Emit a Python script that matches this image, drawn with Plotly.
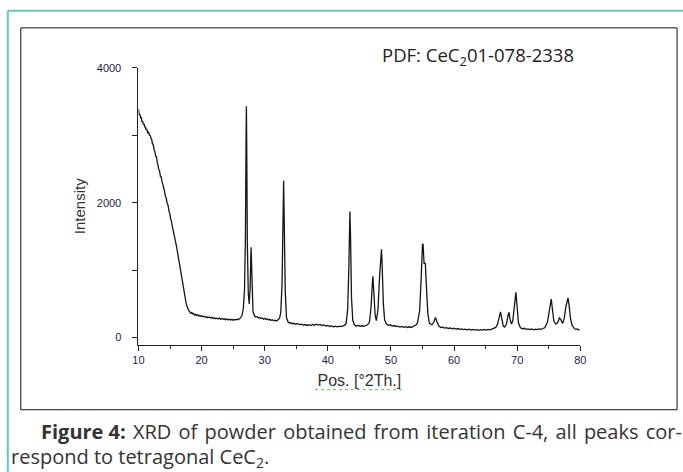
import plotly.graph_objects as go

two_theta = [
    10.0, 10.05, 10.1, 10.15, 10.25, 10.35, 10.45, 10.55, 10.65, 10.8,
    10.9, 11.0, 11.1, 11.2, 11.3, 11.45, 11.6, 11.75, 11.9, 12.0,
    12.1, 12.2, 12.35, 12.5, 12.6, 12.75, 12.85, 13.0, 13.1, 13.2,
    13.35, 13.5, 13.6, 13.75, 13.85, 14.0, 14.1, 14.25, 14.4, 14.55,
    14.7, 14.85, 14.95, 15.1, 15.2, 15.35, 15.5, 15.6, 15.75, 15.9,
    16.05, 16.2, 16.35, 16.5, 16.65, 16.8, 16.95, 17.1, 17.25, 17.4,
    17.55, 17.7, 17.85, 18.0, 18.15, 18.3, 18.45, 18.6, 18.75, 18.9,
    19.05, 19.2, 19.35, 19.5, 19.65, 19.8, 20.0, 20.2, 20.4, 20.6,
    20.8, 21.0, 21.2, 21.4, 21.6, 21.8, 22.0, 22.2, 22.4, 22.6,
    22.8, 23.0, 23.2, 23.4, 23.6, 23.8, 24.0, 24.2, 24.4, 24.6,
    24.8, 25.0, 25.2, 25.4, 25.6, 25.8, 26.0, 26.2, 26.4, 26.6,
    26.8, 26.95, 27.05, 27.1, 27.15, 27.25, 27.4, 27.55, 27.7, 27.8,
    27.85, 27.9, 28.0, 28.15, 28.4, 28.6, 28.8, 29.0, 29.2, 29.4,
    29.6, 29.8, 30.0, 30.2, 30.4, 30.6, 30.8, 31.0, 31.2, 31.4,
    31.6, 31.8, 32.0, 32.2, 32.4, 32.55, 32.75, 32.9, 33.0, 33.1,
    33.25, 33.45, 33.7, 33.9, 34.1, 34.3, 34.6, 34.9, 35.2, 35.5,
    35.8, 36.1, 36.4, 36.7, 37.0, 37.3, 37.6, 37.9, 38.2, 38.5,
    38.8, 39.1, 39.4, 39.7, 40.0, 40.3, 40.6, 40.9, 41.2, 41.5,
    41.8, 42.1, 42.4, 42.7, 42.9, 43.15, 43.35, 43.5, 43.6, 43.75,
    43.95, 44.2, 44.5, 44.8, 45.1, 45.4, 45.7, 46.0, 46.3, 46.6,
    46.85, 47.05, 47.15, 47.3, 47.5, 47.7, 47.95, 48.2, 48.4, 48.5,
    48.6, 48.8, 49.0, 49.3, 49.6, 49.9, 50.2, 50.5, 50.8, 51.1,
    51.4, 51.7, 52.0, 52.3, 52.6, 52.9, 53.2, 53.5, 53.8, 54.0,
    54.2, 54.55, 54.8, 55.0, 55.1, 55.25, 55.45, 55.6, 55.85, 56.1,
    56.5, 56.8, 57.05, 57.3, 57.6, 57.9, 58.2, 58.5, 58.8, 59.1,
    59.4, 59.7, 60.0, 60.3, 60.6, 60.9, 61.2, 61.5, 61.8, 62.1,
    62.4, 62.7, 63.0, 63.3, 63.6, 63.9, 64.2, 64.5, 64.8, 65.1,
    65.4, 65.7, 66.0, 66.3, 66.6, 66.9, 67.15, 67.35, 67.55, 67.8,
    68.0, 68.3, 68.55, 68.7, 68.85, 69.1, 69.3, 69.5, 69.7, 69.8,
    69.95, 70.2, 70.5, 70.8, 71.1, 71.4, 71.7, 72.0, 72.3, 72.6,
    72.9, 73.2, 73.5, 73.8, 74.1, 74.4, 74.8, 75.05, 75.25, 75.4,
    75.55, 75.8, 76.1, 76.4, 76.7, 76.9, 77.2, 77.45, 77.7, 77.9,
    78.05, 78.2, 78.45, 78.7, 78.9, 79.1, 79.3, 79.5, 79.7, 79.9,
]
intensity = [
    3390, 3340, 3360, 3300, 3310, 3250, 3270, 3200, 3210, 3160,
    3175, 3120, 3130, 3080, 3095, 3040, 3050, 3000, 2990, 2950,
    2940, 2880, 2860, 2780, 2760, 2680, 2690, 2580, 2560, 2500,
    2470, 2380, 2390, 2300, 2280, 2210, 2190, 2100, 2070, 1990,
    1960, 1870, 1850, 1760, 1740, 1660, 1600, 1560, 1480, 1420,
    1340, 1260, 1170, 1080, 980, 890, 800, 720, 640, 570,
    510, 460, 420, 395, 380, 360, 370, 350, 355, 335,
    345, 330, 338, 322, 330, 315, 325, 310, 318, 300,
    308, 295, 305, 290, 300, 285, 295, 280, 288, 276,
    290, 272, 282, 270, 278, 266, 276, 262, 272, 260,
    270, 258, 268, 262, 272, 265, 280, 295, 330, 420,
    700, 1500, 3000, 3430, 2900, 1400, 650, 500, 750, 1200,
    1340, 1150, 650, 380, 320, 305, 310, 290, 298, 282,
    290, 272, 285, 268, 278, 262, 272, 255, 265, 250,
    258, 245, 255, 270, 300, 380, 800, 1800, 2330, 1700,
    700, 300, 230, 215, 222, 205, 212, 198, 206, 192,
    200, 185, 193, 180, 190, 178, 195, 183, 198, 186,
    196, 180, 188, 172, 180, 165, 172, 160, 168, 158,
    170, 162, 175, 185, 210, 420, 1100, 1870, 1500, 600,
    260, 190, 172, 180, 166, 175, 168, 180, 190, 230,
    450, 800, 910, 650, 330, 250, 420, 900, 1250, 1310,
    1100, 500, 260, 200, 182, 190, 170, 178, 162, 170,
    156, 166, 152, 162, 150, 160, 150, 162, 172, 190,
    215, 400, 900, 1390, 1380, 1100, 1100, 800, 350, 210,
    190, 230, 300, 230, 170, 150, 156, 140, 148, 135,
    142, 130, 138, 126, 134, 122, 130, 118, 126, 115,
    124, 112, 120, 110, 118, 108, 117, 110, 120, 112,
    122, 115, 125, 130, 150, 200, 320, 380, 290, 170,
    155, 200, 330, 375, 280, 200, 250, 450, 650, 670,
    500, 220, 150, 130, 138, 122, 130, 118, 127, 116,
    126, 118, 128, 122, 135, 150, 230, 350, 500, 570,
    450, 250, 200, 220, 290, 270, 210, 280, 450, 560,
    590, 500, 280, 180, 145, 130, 122, 128, 115, 118,
]

x_ticks = [10, 20, 30, 40, 50, 60, 70, 80]
y_ticks = [0, 2000, 4000]

W, H = 683, 472
TEAL = "#5ccdb7"
TICK_COLOR = "#23224a"

# layout helpers: page pixel position -> paper fraction (small correction for capture scaling)
SC, OFF = 0.985, 4.2


def fx(px):
    return (px - OFF) / SC / W


def fy(py):
    return 1 - (py - OFF) / SC / H


fig = go.Figure()
fig.add_trace(go.Scatter(
    x=two_theta, y=intensity, mode="lines",
    line=dict(color="#151515", width=1.3),
    showlegend=False, hoverinfo="skip",
))

fig.update_layout(
    width=W, height=H,
    margin=dict(l=0, r=0, t=0, b=0),
    paper_bgcolor="white", plot_bgcolor="white",
    showlegend=False,
    xaxis=dict(
        domain=[fx(137), fx(580)], range=[10, 80],
        tickvals=x_ticks, ticktext=[str(v) for v in x_ticks],
        ticks="outside", ticklen=5, tickcolor="#222", tickwidth=1,
        minor=dict(ticks="outside", dtick=5, tick0=10, ticklen=3, tickcolor="#222"),
        showline=True, linecolor="#222", linewidth=1, mirror=False,
        showgrid=False, zeroline=False,
        tickfont=dict(family="Liberation Sans, Arial", size=11, color=TICK_COLOR),
        title=dict(text="Pos. [°2Th.]", standoff=10,
                   font=dict(family="Liberation Sans, Arial", size=16, color="#333")),
    ),
    yaxis=dict(
        domain=[fy(342), fy(66)], range=[-104, 4000],
        tickvals=y_ticks, ticktext=[str(v) for v in y_ticks],
        ticks="outside", ticklen=5, tickcolor="#222", tickwidth=1,
        minor=dict(ticks="outside", dtick=1000, tick0=0, ticklen=5, tickcolor="#222"),
        showline=True, linecolor="#222", linewidth=1,
        showgrid=False, zeroline=False,
        ticklabelstandoff=9,
        tickfont=dict(family="Liberation Sans, Arial", size=11, color=TICK_COLOR),
        title=dict(text="Intensity", standoff=7,
                   font=dict(family="Liberation Sans, Arial", size=15, color="#333")),
    ),
)

# page decoration: teal frame and black box around the figure
fig.add_shape(type="line", xref="paper", yref="paper", x0=fx(6), x1=1.02, y0=fy(9), y1=fy(9),
              line=dict(color=TEAL, width=2))
fig.add_shape(type="line", xref="paper", yref="paper", x0=fx(6), x1=fx(6), y0=-0.02, y1=fy(9),
              line=dict(color=TEAL, width=2))
fig.add_shape(type="rect", xref="paper", yref="paper", x0=fx(19), x1=fx(677),
              y0=fy(407), y1=fy(26), line=dict(color="#111", width=1))
# spell-check squiggle under the axis title, as on the source page
fig.add_shape(type="line", xref="paper", yref="paper", x0=fx(314), x1=fx(402),
              y0=fy(387), y1=fy(387), line=dict(color="#5fbf4a", width=1, dash="dot"))

fig.add_annotation(text="PDF: CeC<sub>2</sub>01-078-2338", xref="paper", yref="paper",
                   x=fx(379), y=fy(54), xanchor="left", yanchor="middle", showarrow=False,
                   font=dict(family="Open Sans", size=18.5, color="#222"))

# justified first caption line: a hair space after each word gap widens it like the page text
HS = "\u200a"
line1 = ("<b>Figure 4:</b> " + HS + ("XRD of powder obtained from iteration C-4, all peaks cor-")
         .replace(" ", " " + HS))
fig.add_annotation(text=line1,
                   xref="paper", yref="paper", x=fx(37), y=fy(429),
                   xanchor="left", yanchor="middle", showarrow=False,
                   font=dict(family="Open Sans", size=20, color="#333"))
fig.add_annotation(text="respond to tetragonal CeC<sub>2</sub>.",
                   xref="paper", yref="paper", x=fx(7), y=fy(455),
                   xanchor="left", yanchor="middle", showarrow=False,
                   font=dict(family="Open Sans", size=20, color="#333"))

fig.write_html(
    "out.html",
    config={"displayModeBar": False},
    post_script=(
        "document.documentElement.style.margin='0';document.documentElement.style.padding='0';"
        "document.documentElement.style.overflow='hidden';"
        "document.body.style.margin='0';document.body.style.padding='0';"
        "document.body.style.overflow='hidden';"
        "var d=document.getElementById('{plot_id}');"
        "d.style.position='absolute';d.style.left='0px';d.style.top='0px';"
    ),
)
